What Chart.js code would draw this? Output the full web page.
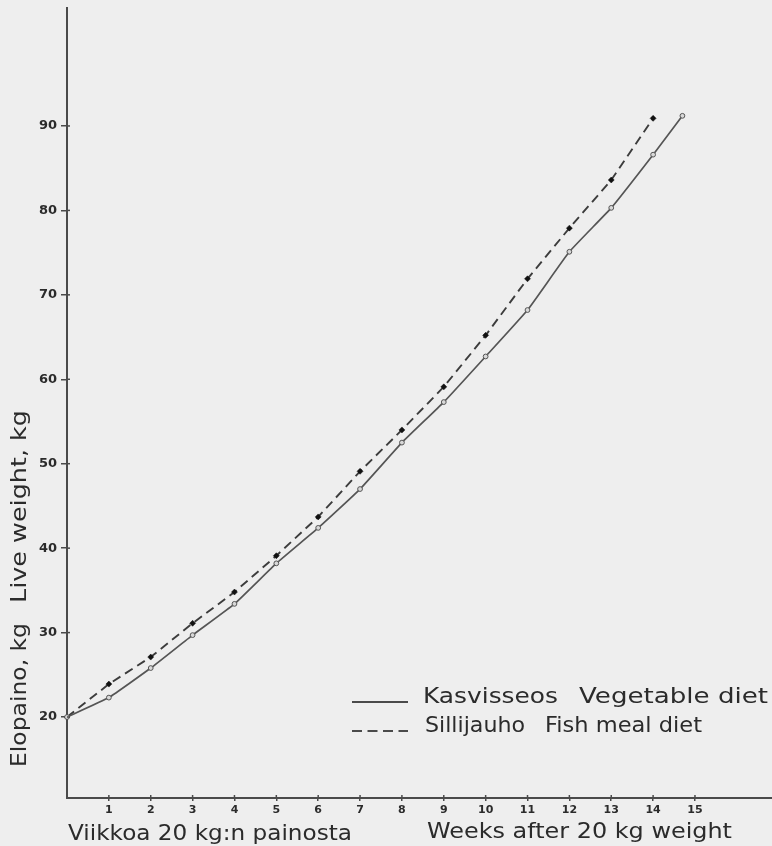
<!DOCTYPE html>
<html>
<head>
<meta charset="utf-8">
<script src="https://cdn.jsdelivr.net/npm/chart.js@4.4.1/dist/chart.umd.min.js"></script>
<style>
  html, body { margin: 0; padding: 0; background: #eeeeee; }
  canvas { display: block; }
</style>
</head>
<body>
<canvas id="c" width="772" height="846"></canvas>
<script>
// ---- Data ----
const vegWeeks   = [0, 1, 2, 3, 4, 5, 6, 7, 8, 9, 10, 11, 12, 13, 14, 14.7];
const vegWeight  = [20, 22.3, 25.8, 29.7, 33.4, 38.2, 42.4, 47.0, 52.5, 57.3, 62.7, 68.2, 75.1, 80.3, 86.6, 91.2];
const fishWeeks  = [0, 1, 2, 3, 4, 5, 6, 7, 8, 9, 10, 11, 12, 13, 14];
const fishWeight = [20, 23.9, 27.1, 31.1, 34.8, 39.1, 43.7, 49.1, 54.0, 59.1, 65.2, 71.9, 77.9, 83.6, 90.9];
const xTickValues = [1, 2, 3, 4, 5, 6, 7, 8, 9, 10, 11, 12, 13, 14, 15];
const yTickValues = [20, 30, 40, 50, 60, 70, 80, 90];
const seriesNames = ['Kasvisseos   Vegetable diet', 'Sillijauho   Fish meal diet'];

const INK = '#2b2b2b';
const LINE = '#4a4a4a';
const FONT = '"DejaVu Sans", "Liberation Sans", sans-serif';

function fitText(ctx, text, x, y, width, size, rotate) {
  ctx.save();
  ctx.font = size + 'px ' + FONT;
  const w = ctx.measureText(text).width;
  ctx.translate(x, y);
  if (rotate) ctx.rotate(-Math.PI / 2);
  ctx.scale(width / w, 1);
  ctx.fillStyle = INK;
  ctx.textBaseline = 'alphabetic';
  ctx.textAlign = 'left';
  ctx.fillText(text, 0, 0);
  ctx.restore();
}

const decor = {
  id: 'decor',
  beforeDraw(chart) {
    const ctx = chart.ctx;
    ctx.save();
    ctx.fillStyle = '#eeeeee';
    ctx.fillRect(0, 0, chart.width, chart.height);
    ctx.restore();
  },
  afterDraw(chart) {
    const ctx = chart.ctx;
    const xs = chart.scales.x, ys = chart.scales.y;
    const ca = chart.chartArea;
    ctx.save();
    ctx.strokeStyle = LINE;
    ctx.lineWidth = 1.5;
    // small inner tick marks
    xTickValues.forEach(v => {
      const px = xs.getPixelForValue(v);
      ctx.beginPath(); ctx.moveTo(px, ca.bottom); ctx.lineTo(px, ca.bottom - 3); ctx.stroke();
    });
    yTickValues.forEach(v => {
      const py = ys.getPixelForValue(v);
      ctx.beginPath(); ctx.moveTo(ca.left, py); ctx.lineTo(ca.left + 3, py); ctx.stroke();
    });
    // legend
    ctx.lineWidth = 1.8;
    ctx.strokeStyle = LINE;
    ctx.beginPath(); ctx.moveTo(352, 702); ctx.lineTo(408, 702); ctx.stroke();
    ctx.setLineDash([10, 5.5]);
    ctx.beginPath(); ctx.moveTo(352, 731); ctx.lineTo(408, 731); ctx.stroke();
    ctx.setLineDash([]);
    ctx.restore();

    const [vegName, fishName] = seriesNames.map(s => s.split('   '));
    fitText(ctx, vegName[0], 423, 703, 135, 21);
    fitText(ctx, vegName[1], 579, 703, 189, 21);
    fitText(ctx, fishName[0], 425, 732, 100, 21);
    fitText(ctx, fishName[1], 545, 732, 157, 21);

    // axis titles
    fitText(ctx, 'Viikkoa 20 kg:n painosta', 68, 840, 284, 21);
    fitText(ctx, 'Weeks after 20 kg weight', 427, 838, 305, 21);
    fitText(ctx, 'Elopaino, kg', 26, 767, 144, 21, true);
    fitText(ctx, 'Live weight, kg', 26, 603, 193, 21, true);
  }
};

const vegData = vegWeeks.map((w, i) => ({ x: w, y: vegWeight[i] }));
const fishData = fishWeeks.map((w, i) => ({ x: w, y: fishWeight[i] }));

new Chart(document.getElementById('c'), {
  type: 'line',
  data: {
    datasets: [
      {
        label: seriesNames[0],
        data: vegData,
        borderColor: '#555555',
        borderWidth: 1.7,
        tension: 0.12,
        pointStyle: 'circle',
        pointRadius: 2.4,
        pointBorderWidth: 1,
        pointBorderColor: '#555555',
        pointBackgroundColor: '#d8d8d8',
        fill: false,
        clip: false
      },
      {
        label: seriesNames[1],
        data: fishData,
        borderColor: '#3c3c3c',
        borderWidth: 1.9,
        borderDash: [9, 5.5],
        tension: 0,
        pointStyle: 'rectRot',
        pointRadius: 3,
        pointBorderWidth: 0.5,
        pointBorderColor: '#111111',
        pointBackgroundColor: '#111111',
        fill: false,
        clip: false
      }
    ]
  },
  options: {
    responsive: false,
    animation: false,
    devicePixelRatio: 1,
    layout: { autoPadding: false, padding: { top: 8, right: 0, left: 0, bottom: 0 } },
    plugins: { legend: { display: false }, tooltip: { enabled: false } },
    scales: {
      x: {
        type: 'linear',
        position: 'bottom',
        min: 0,
        max: 16.84,
        afterBuildTicks: s => { s.ticks = xTickValues.map(v => ({ value: v })); },
        afterFit: s => { s.height = 48; s.paddingLeft = 0; s.paddingRight = 0; },
        border: { display: true, color: LINE, width: 2 },
        grid: { drawOnChartArea: false, drawTicks: true, tickLength: 3, color: LINE, lineWidth: 1.5 },
        ticks: { color: INK, padding: 3, maxRotation: 0, autoSkip: false,
                 font: { family: FONT, size: 11, weight: 'bold' } }
      },
      y: {
        type: 'linear',
        min: 10.41,
        max: 103.97,
        afterBuildTicks: s => { s.ticks = yTickValues.map(v => ({ value: v })); },
        afterFit: s => { s.width = 67; s.paddingTop = 0; s.paddingBottom = 0; },
        border: { display: true, color: LINE, width: 2 },
        grid: { drawOnChartArea: false, drawTicks: true, tickLength: 6, color: LINE, lineWidth: 1.5 },
        ticks: { color: INK, padding: 4, autoSkip: false,
                 font: { family: FONT, size: 13, weight: 'bold' } }
      }
    }
  },
  plugins: [decor]
});
</script>
</body>
</html>
